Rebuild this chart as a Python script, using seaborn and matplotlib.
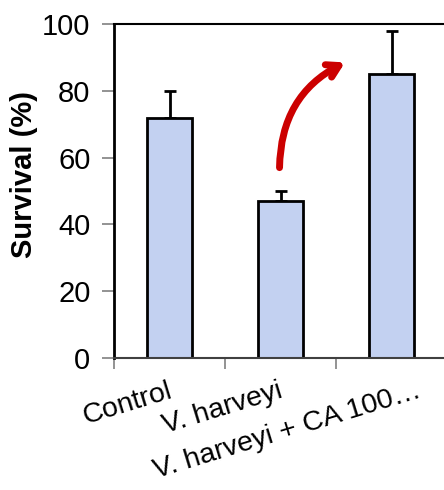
import matplotlib
matplotlib.use("Agg")
import matplotlib.pyplot as plt
import matplotlib.transforms as mtransforms
import numpy as np
import pandas as pd
import seaborn as sns

groups = ["Control", "V. harveyi", "V. harveyi + CA 100\u2026"]
survival = [72, 47, 85]
err_upper = [8, 3, 13]

sns.set_style("white")
plt.rcParams["font.family"] = ["Liberation Sans", "DejaVu Sans"]
plt.rcParams["text.color"] = "black"
plt.rcParams["axes.labelcolor"] = "black"
plt.rcParams["xtick.color"] = "black"
plt.rcParams["ytick.color"] = "black"

df = pd.DataFrame({"group": groups, "survival": survival})

fig = plt.figure(figsize=(4.44, 4.90), dpi=100)
ax = fig.add_axes([0.2568, 0.2694, 0.7505, 0.6816])

sns.barplot(data=df, x="group", y="survival", color="#c3d1f1", saturation=1,
            width=0.4, edgecolor="black", linewidth=2, ax=ax, zorder=2)

# upper error bars only
xs = np.arange(len(groups))
ax.errorbar(xs, survival, yerr=[np.zeros(len(groups)), err_upper], fmt="none",
            ecolor="black", elinewidth=2, capsize=4.5, capthick=2, zorder=1)

ax.set_xlim(-0.5, 2.5)
ax.set_ylim(0, 100)
ax.set_yticks([0, 20, 40, 60, 80, 100])
ax.tick_params(axis="y", direction="out", length=9, width=1.2, color="#808080",
               labelcolor="black", labelsize=21, pad=8, left=True)
ax.set_ylabel("Survival (%)", fontsize=21, fontweight="bold", labelpad=3)
ax.yaxis.label.set_y(0.55)
ax.set_xlabel("")

# category boundary ticks, labels drawn separately
ax.set_xticks(xs)
ax.set_xticklabels([])
ax.tick_params(axis="x", which="major", length=0)
ax.set_xticks(np.arange(-0.5, 2.6, 1.0), minor=True)
ax.tick_params(axis="x", which="minor", direction="out", length=8, width=1.2,
               color="#808080", bottom=True)

for side in ["left", "top", "right"]:
    ax.spines[side].set_visible(True)
    ax.spines[side].set_color("black")
ax.spines["left"].set_linewidth(2)
ax.spines["top"].set_linewidth(1.5)
ax.spines["right"].set_linewidth(1.5)
ax.spines["bottom"].set_color("#404040")
ax.spines["bottom"].set_linewidth(1.5)

# staggered, rotated category labels
trans = mtransforms.blended_transform_factory(ax.transData, ax.transAxes)
shifts = [-0.02, -0.02, 0.22]
for i, lab in enumerate(groups):
    ax.text(xs[i] + shifts[i], -0.06, lab, transform=trans, rotation=17,
            ha="right", va="top", rotation_mode="anchor", fontsize=20.5,
            color="black")

# red curved arrow
ax.annotate("", xy=(1.58, 88.5), xytext=(0.99, 57),
            arrowprops=dict(arrowstyle="->,head_length=0.85,head_width=0.5",
                            connectionstyle="arc3,rad=-0.3", color="#cc0000",
                            lw=5, shrinkA=0, shrinkB=0))

fig.savefig("out.png", dpi=100)
